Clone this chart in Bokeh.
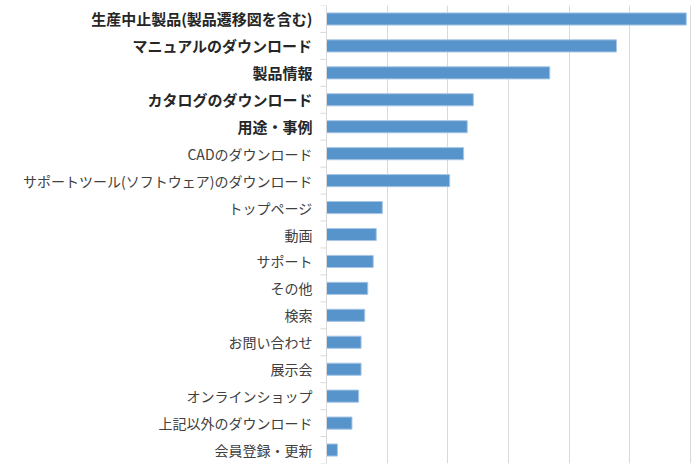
from bokeh.plotting import figure
from bokeh.models import Range1d, ColumnDataSource, FixedTicker
from bokeh.core.properties import value
from bokeh.embed import file_html
from bokeh.resources import INLINE

categories = [
    "生産中止製品(製品遷移図を含む)",
    "マニュアルのダウンロード",
    "製品情報",
    "カタログのダウンロード",
    "用途・事例",
    "CADのダウンロード",
    "サポートツール(ソフトウェア)のダウンロード",
    "トップページ",
    "動画",
    "サポート",
    "その他",
    "検索",
    "お問い合わせ",
    "展示会",
    "オンラインショップ",
    "上記以外のダウンロード",
    "会員登録・更新",
]
values = [5.93, 4.78, 3.68, 2.42, 2.32, 2.26, 2.03, 0.92, 0.82, 0.77, 0.68,
          0.63, 0.57, 0.57, 0.53, 0.42, 0.18]
bold = [True, True, True, True, True, False, False, False, False, False,
        False, False, False, False, False, False, False]
grid_ticks = [1, 2, 3, 4, 5, 6]

n = len(categories)
centers = [i + 0.5 for i in range(n)]
bounds = list(range(n + 1))

p = figure(width=692, height=466, output_backend="svg", toolbar_location=None,
           x_axis_location=None, y_axis_location=None,
           x_range=Range1d(-5.374, 6.033), y_range=Range1d(n, 0),
           min_border_left=0, min_border_right=0, min_border_top=5, min_border_bottom=3)
p.outline_line_color = None
p.background_fill_color = "white"
p.border_fill_color = "white"
p.ygrid.visible = False
p.xgrid.ticker = FixedTicker(ticks=grid_ticks)
p.xgrid.grid_line_color = "#d9d9d9"
p.xgrid.grid_line_width = 1

src = ColumnDataSource(dict(y=centers, v=values))
p.hbar(y="y", left=0, right="v", height=0.45, source=src,
       fill_color="#5794cb", line_color="#a8c6e6", line_width=1)

# axis line and category boundary ticks
p.segment(x0=[0], y0=[0], x1=[0], y1=[n], line_color="#d9d9d9", line_width=1)
p.segment(x0=[-0.1] * len(bounds), y0=bounds, x1=[0] * len(bounds), y1=bounds,
          line_color="#d9d9d9", line_width=1)

bsrc = ColumnDataSource(dict(y=[c for c, b in zip(centers, bold) if b],
                             t=[c for c, b in zip(categories, bold) if b]))
nsrc = ColumnDataSource(dict(y=[c for c, b in zip(centers, bold) if not b],
                             t=[c for c, b in zip(categories, bold) if not b]))
for s, style, col, size in [(bsrc, "bold", "#262626", "15px"),
                            (nsrc, "normal", "#404040", "14px")]:
    p.text(x=0, y="y", text="t", source=s, x_offset=-14, text_align="right",
           text_baseline="middle", text_font=value("Noto Sans CJK JP"),
           text_font_size=size, text_font_style=style, text_color=col)

open("out.html", "w").write(file_html(p, INLINE))
